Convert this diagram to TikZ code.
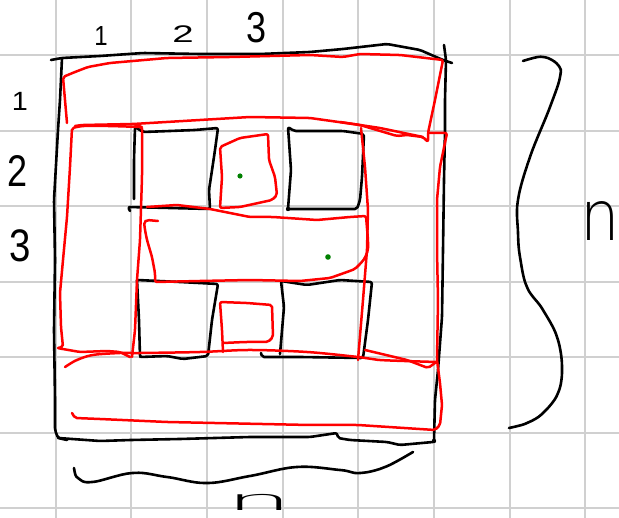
\documentclass[tikz,border=0pt]{standalone}
\usepackage{fontspec}
\setmainfont{Liberation Sans}
\newfontfamily\thinfont{DejaVu Sans ExtraLight}
\definecolor{gridgray}{RGB}{208,208,208}
\definecolor{dotgreen}{RGB}{0,128,0}
\begin{document}
\begin{tikzpicture}[x=1pt,y=-1pt,line cap=round,line join=round,
  gridline/.style={draw=gridgray,line width=2pt},
  ink/.style={draw=black,line width=2.6pt,rounded corners=2pt},
  redink/.style={draw=red,line width=2.5pt,rounded corners=2pt},
  lab/.style={font=\fontsize{24}{24}\selectfont,inner sep=0pt,anchor=center},
  bigl/.style={font=\thinfont\fontsize{48}{48}\selectfont,inner sep=0pt,anchor=center}]
\useasboundingbox (0,0) rectangle (619,518);
\fill[white] (0,0) rectangle (619,518);
% grid
\foreach \x in {55.5,131,207,282.5,358,434,509.5,585} \draw[gridline] (\x,0) -- (\x,518);
\foreach \y in {55,131,206,282,357,433,508} \draw[gridline] (0,\y) -- (619,\y);

% black outer square
\draw[ink] (51,60) -- (62,58) -- (100,56) -- (143,53) -- (200,54) -- (260,54) -- (310,52) -- (343,49) -- (387,44) -- (420,50) -- (443,60) -- (452,63);
\draw[ink] (444,45) -- (446,60) -- (445,100) -- (445,130) -- (444,180) -- (443,250) -- (442,317) -- (438,370) -- (435,400) -- (434,441);
\draw[ink] (62,58) -- (60,100) -- (58,130) -- (54,200) -- (55,260) -- (54,330) -- (55,400) -- (55,430) -- (58,438) -- (67,440);
\draw[ink] (58,438) -- (100,441) -- (131,440) -- (180,439) -- (250,437) -- (310,437) -- (337,433) -- (338,438) -- (350,440) -- (387,442) -- (400,445) -- (433,442);
\fill (434,441) circle (2.2);

% black inner boxes
\draw[ink] (134,199) -- (134,160) -- (135,127) -- (143,132) -- (170,131) -- (195,130) -- (218,128) -- (215,150) -- (211,177) -- (209,190) -- (210,209) -- (170,208) -- (128,207) -- (130,211);
\draw[ink] (288,209) -- (291,170) -- (288,127) -- (294,131) -- (343,131) -- (364,134) -- (362,177) -- (360,200) -- (357,209) -- (288,209);
\fill (288,209) circle (2.2);
\draw[ink] (137,280) -- (139,320) -- (140,357) -- (167,356) -- (183,359) -- (208,356) -- (212,320) -- (218,284) -- (180,282) -- (137,280);
\draw[ink] (140,344) -- (140,357);
\draw[ink] (261,353) -- (262,357) -- (300,357) -- (363,358) -- (368,320) -- (372,282) -- (340,280) -- (307,285) -- (281,281) -- (284,307) -- (280,354);

% braces
\draw[ink] plot[smooth,tension=0.6] coordinates {(74,468) (78,478) (92,482) (133,473) (167,477) (207,483) (250,476) (297,467) (340,470) (360,473) (385,467) (413,452)};
\draw[ink] plot[smooth,tension=0.6] coordinates {(523,61) (543,57) (558,65) (560,77) (550,107) (530,157) (518,200) (518,233) (520,257) (527,287) (543,310) (557,337) (562,367) (558,393) (543,413) (527,423) (509,428)};

% red: top bar
\draw[redink] (67,123) -- (65,100) -- (63,77) -- (75,72) -- (88,67) -- (110,63) -- (167,58) -- (230,57) -- (310,55) -- (343,57) -- (360,54) -- (400,55) -- (443,60) -- (435,100) -- (428,133) -- (428,142) -- (423,137) -- (407,135) -- (397,136) -- (360,125) -- (310,118) -- (250,117) -- (133,124) -- (82,125) -- (75,126);
\draw[redink] (340,122) -- (380,128) -- (423,137);
% red: left column
\draw[redink] (142,127) -- (110,126) -- (82,126) -- (72,128) -- (70,167) -- (67,217) -- (63,260) -- (60,293) -- (61,327) -- (63,347) -- (57,348) -- (80,352) -- (107,351) -- (120,352) -- (130,357);
\draw[redink] (135,125) -- (142,127) -- (142,177) -- (140,240) -- (137,280) -- (135,330) -- (132,357);
% red: middle bar
\draw[redink] (147,207) -- (177,205) -- (210,209) -- (250,217) -- (273,217) -- (317,220) -- (350,217) -- (366,216) -- (368,240) -- (368,250) -- (365,258) -- (361,263) -- (355,269) -- (347,272) -- (330,278) -- (300,281) -- (250,280) -- (200,281) -- (155,282) -- (155,273) -- (152,257) -- (147,240) -- (145,230) -- (144,222) -- (147,220) -- (158,221);
% red: right column
\draw[redink] (361,128) -- (365,167) -- (368,210) -- (367,250) -- (363,300) -- (358,360);
\draw[redink] (429,133) -- (447,133) -- (440,167) -- (437,200) -- (437,250) -- (438,300) -- (437,360) -- (440,383) -- (442,405) -- (440,425) -- (435,430) -- (358,425) -- (310,425) -- (167,422) -- (100,419) -- (75,418) -- (72,413);
% red: bottom band top
\draw[redink] plot[smooth,tension=0.5] coordinates {(65,367) (77,360) (93,355) (120,353) (140,353) (200,352) (250,350) (307,352) (358,357) (380,360) (437,362)};
\draw[redink] (365,350) -- (407,360) -- (428,368) -- (435,363);
% red: small boxes
\draw[redink] (220,147) -- (240,138) -- (268,134) -- (269,160) -- (275,177) -- (277,195) -- (272,200) -- (240,207) -- (220,208) -- (222,177) -- cycle;
\draw[redink] (223,352) -- (222,330) -- (220,302) -- (247,303) -- (272,305) -- (273,337) -- (268,342) -- (245,342) -- (223,343);

% green dots
\fill[dotgreen] (240,176) circle (2.6);
\fill[dotgreen] (328,257) circle (2.8);

% labels
\node[lab,yscale=1.15] (c1) at (101,36) {1};
\node[lab,xscale=1.6,yscale=1.0] (c2) at (183,34) {2};
\node[lab,xscale=1.5,yscale=1.8] (c3) at (257,28) {3};
\node[lab,xscale=1.2,yscale=1.1] (r1) at (20,101) {1};
\node[lab,xscale=1.5,yscale=1.85] (r2) at (18,171) {2};
\node[lab,xscale=1.6,yscale=1.9] (r3) at (20,246) {3};
\node[bigl,xscale=1.3,yscale=1.45] (nr) at (600,221) {n};
\node[bigl,xscale=2.2,yscale=0.6,anchor=base] (nb) at (259,511) {n};
\end{tikzpicture}
\end{document}
